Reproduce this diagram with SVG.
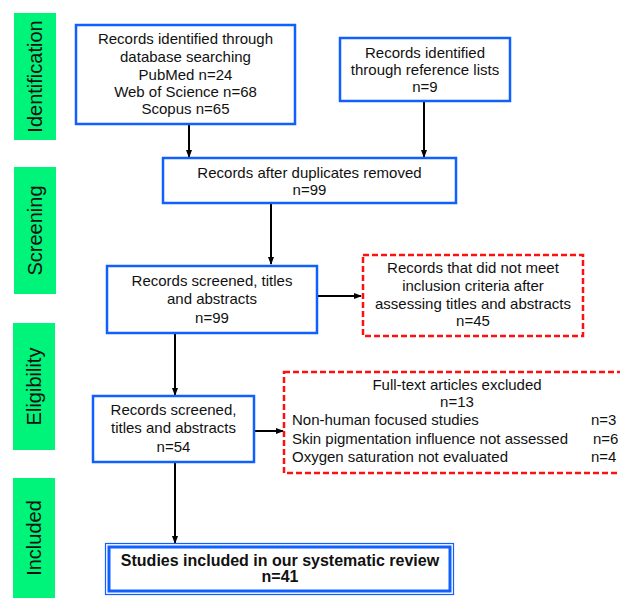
<svg xmlns="http://www.w3.org/2000/svg" width="620" height="598" viewBox="0 0 620 598">
<style>
text{font-family:"Liberation Sans",Arial,sans-serif;font-size:15px;fill:#111;}
.c{text-anchor:middle;}
.side{font-size:20px;text-anchor:middle;}
.b{font-weight:bold;font-size:16px;}
.bar{fill:#00F47A;}
.box{fill:#fff;stroke:#1060FF;stroke-width:2.5;}
.rbox{fill:#fff;stroke:#FF1010;stroke-width:2.5;stroke-dasharray:6,3;}
.con{stroke:#000;stroke-width:2;fill:none;marker-end:url(#ah);}
</style>
<defs>
<marker id="ah" markerWidth="8" markerHeight="8" refX="7" refY="4" orient="auto" markerUnits="userSpaceOnUse">
<path d="M0,1 L8,4 L0,7 Z" fill="#000"/>
</marker>
</defs>
<rect width="620" height="598" fill="#fff"/>
<g id="stages">
<rect class="bar" x="14" y="13" width="42" height="127"/>
<text class="side" transform="translate(42,76.5) rotate(-90)">Identification</text>
<rect class="bar" x="14" y="167" width="42" height="127"/>
<text class="side" transform="translate(42,230.5) rotate(-90)">Screening</text>
<rect class="bar" x="13" y="323" width="42" height="127"/>
<text class="side" transform="translate(41,386.5) rotate(-90)">Eligibility</text>
<rect class="bar" x="13" y="478" width="42" height="120"/>
<text class="side" transform="translate(41,538) rotate(-90)">Included</text>
</g>
<g id="connectors">
<line class="con" x1="189" y1="125" x2="189" y2="157"/>
<line class="con" x1="424" y1="101" x2="424" y2="157"/>
<line class="con" x1="271" y1="203" x2="271" y2="264"/>
<line class="con" x1="317" y1="296" x2="361" y2="296"/>
<line class="con" x1="175" y1="333" x2="175" y2="395"/>
<line class="con" x1="254" y1="431" x2="283" y2="431"/>
<line class="con" x1="175" y1="462" x2="175" y2="543"/>
</g>
<g id="n1">
<rect class="box" x="76" y="25" width="219" height="99"/>
<text class="c" x="185.5" y="44">Records identified through</text>
<text class="c" x="185.5" y="62">database searching</text>
<text class="c" x="185.5" y="80">PubMed n=24</text>
<text class="c" x="185.5" y="97">Web of Science n=68</text>
<text class="c" x="185.5" y="114">Scopus n=65</text>
</g>
<g id="n2">
<rect class="box" x="340" y="38" width="170" height="63"/>
<text class="c" x="425" y="58">Records identified</text>
<text class="c" x="425" y="75">through reference lists</text>
<text class="c" x="425" y="92">n=9</text>
</g>
<g id="n3">
<rect class="box" x="163" y="158" width="293" height="45"/>
<text class="c" x="309.5" y="178">Records after duplicates removed</text>
<text class="c" x="309.5" y="195">n=99</text>
</g>
<g id="n4">
<rect class="box" x="107" y="266" width="210" height="67"/>
<text class="c" x="212" y="286">Records screened, titles</text>
<text class="c" x="212" y="304">and abstracts</text>
<text class="c" x="212" y="323">n=99</text>
</g>
<g id="n5">
<rect class="rbox" x="363" y="255" width="220" height="81"/>
<text class="c" x="473" y="273">Records that did not meet</text>
<text class="c" x="473" y="291">inclusion criteria after</text>
<text class="c" x="473" y="309">assessing titles and abstracts</text>
<text class="c" x="473" y="326">n=45</text>
</g>
<g id="n6">
<rect class="box" x="93" y="396" width="161" height="66"/>
<text class="c" x="173.5" y="415">Records screened,</text>
<text class="c" x="173.5" y="433">titles and abstracts</text>
<text class="c" x="173.5" y="452">n=54</text>
</g>
<g id="n7">
<rect class="rbox" x="284" y="372" width="350" height="101"/>
<text class="c" x="457" y="390">Full-text articles excluded</text>
<text class="c" x="457" y="407">n=13</text>
<text x="292" y="425">Non-human focused studies</text>
<text x="292" y="444">Skin pigmentation influence not assessed</text>
<text x="292" y="462">Oxygen saturation not evaluated</text>
<text x="591" y="425">n=3</text>
<text x="593" y="444">n=6</text>
<text x="591" y="462">n=4</text>
</g>
<g id="n8">
<rect x="105.5" y="543.5" width="348" height="51" fill="#fff" stroke="#1060FF" stroke-width="1.2"/>
<rect x="109" y="547" width="341" height="44" fill="#fff" stroke="#1060FF" stroke-width="3"/>
<text class="c b" x="280" y="566">Studies included in our systematic review</text>
<text class="c b" x="280" y="582">n=41</text>
</g>
</svg>
